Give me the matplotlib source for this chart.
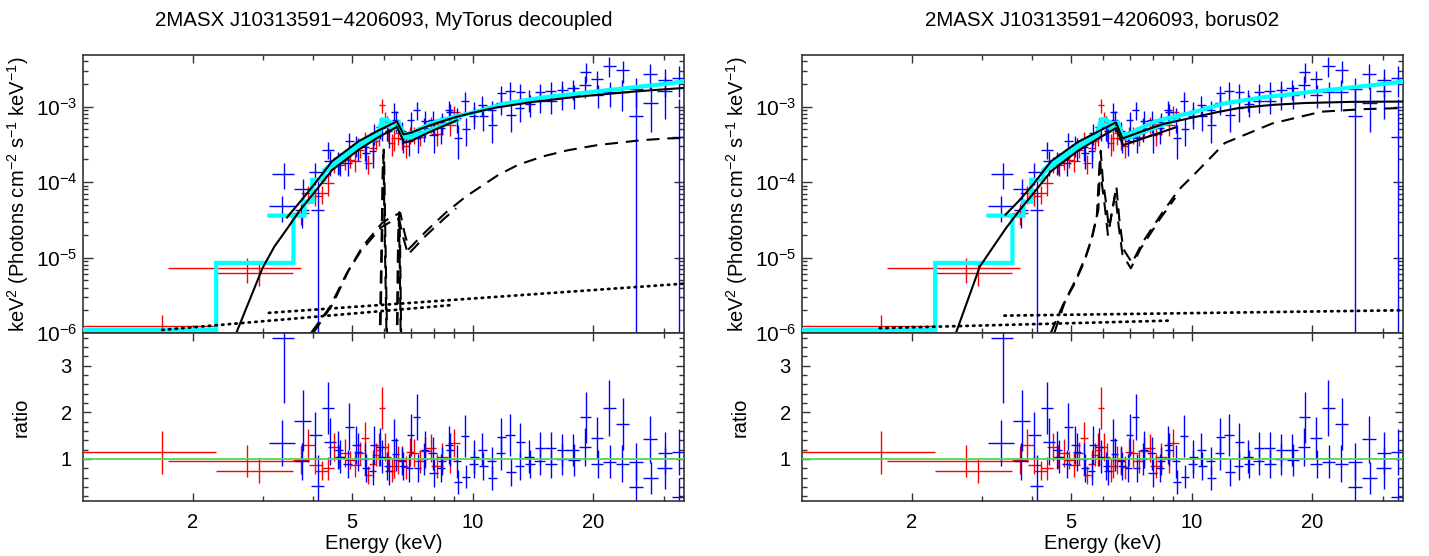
import numpy as np
import matplotlib
matplotlib.use("Agg")
import matplotlib.pyplot as plt
from matplotlib.ticker import FixedLocator, NullFormatter, FixedFormatter

plt.rcParams['font.family'] = ['Liberation Sans', 'DejaVu Sans']
plt.rcParams['mathtext.fontset'] = 'custom'
plt.rcParams['mathtext.rm'] = 'Liberation Sans'
plt.rcParams['mathtext.it'] = 'Liberation Sans'
plt.rcParams['mathtext.default'] = 'regular'

# ---------------- data (shared by both fits) ----------------
# red data set 1
red1_edges = [1.065, 2.29, 3.57, 3.9, 4.2, 4.5, 4.8, 5.1, 5.35, 5.6, 5.85, 6.05, 6.25, 6.5, 6.8, 7.15, 7.6, 8.1, 8.7, 9.3]
red1_flux = [1.25e-6, 6.3e-6, 3.9e-5, 6.5e-5, 9.6e-5, 1.68e-4, 1.96e-4, 2.7e-4, 1.8e-4, 3.5e-4, 1.05e-3, 4.8e-4, 3.8e-4, 3.9e-4, 4.3e-4, 4.0e-4, 5.9e-4, 5.9e-4, 8.4e-4]
red1_ferr = [0.5e-6, 2.1e-6, 1.2e-5, 1.7e-5, 3.0e-5, 4.0e-5, 4.0e-5, 6.0e-5, 5.0e-5, 8.0e-5, 2.2e-4, 1.4e-4, 1.2e-4, 1.2e-4, 1.1e-4, 1.0e-4, 1.4e-4, 1.7e-4, 1.9e-4]
red1_ratio = [1.14, 0.74, 0.98, 0.87, 0.80, 1.05, 0.98, 1.12, 0.66, 1.09, 2.09, 1.05, 0.84, 0.98, 1.16, 0.95, 1.23, 1.05, 1.34]
red1_rerr = [0.46, 0.25, 0.30, 0.20, 0.25, 0.25, 0.20, 0.25, 0.20, 0.25, 0.45, 0.30, 0.25, 0.30, 0.30, 0.25, 0.30, 0.30, 0.30]

# red data set 2
red2_edges = [1.74, 3.72, 4.05, 4.35, 4.65, 4.95, 5.25, 5.5, 5.75, 5.95, 6.15, 6.4, 6.65, 6.95, 7.35, 7.85, 8.45, 9.1]
red2_flux = [7.3e-6, 7.1e-5, 7.1e-5, 1.76e-4, 2.0e-4, 1.9e-4, 3.7e-4, 2.8e-4, 4.3e-4, 6.9e-4, 3.3e-4, 4.5e-4, 3.0e-4, 4.3e-4, 5.2e-4, 4.3e-4, 5.8e-4]
red2_ferr = [2.7e-6, 1.9e-5, 1.9e-5, 4.2e-5, 5.4e-5, 5.5e-5, 9.0e-5, 9.0e-5, 1.3e-4, 1.6e-4, 1.1e-4, 1.4e-4, 9.0e-5, 1.1e-4, 1.3e-4, 1.3e-4, 1.7e-4]
red2_ratio = [0.96, 1.29, 0.75, 1.26, 1.12, 0.87, 1.44, 0.90, 1.20, 1.26, 0.75, 0.98, 0.82, 1.12, 1.18, 0.85, 1.00]
red2_rerr = [0.35, 0.35, 0.20, 0.30, 0.30, 0.25, 0.35, 0.30, 0.35, 0.30, 0.25, 0.30, 0.25, 0.30, 0.30, 0.25, 0.30]

# blue data set 1
blue1_edges = [3.16, 3.59, 3.95, 4.25, 4.55, 4.8, 5.05, 5.3, 5.55, 5.8, 6.05, 6.3, 6.55, 6.85, 7.15, 7.45, 7.8, 8.2, 8.6, 9.0, 9.4,
               9.85, 10.35, 10.9, 11.5, 12.1, 12.8, 13.5, 14.3, 15.2, 16.2, 17.3, 18.5, 19.8, 21.2, 22.8, 24.6, 26.6, 29.0, 31.5, 34.0]
blue1_flux = [1.3e-4, 8.2e-5, 4.3e-5, 1.9e-4, 1.8e-4, 3.5e-4, 2.9e-4, 2.4e-4, 4.55e-4, 5.25e-4, 4.7e-4, 6.7e-4, 3.7e-4, 6.6e-4, 3.9e-4,
              6.5e-4, 4.2e-4, 6.3e-4, 8.5e-4, 3.9e-4, 5.0e-4, 8.8e-4, 7.5e-4, 5.7e-4, 1.5e-3, 7.8e-4, 1.56e-3, 1.08e-3, 1.56e-3, 1.2e-3,
              1.67e-3, 1.44e-3, 2.9e-3, 1.44e-3, 1.57e-3, 3.05e-3, 1.71e-3, 1.13e-3, 2.26e-3, 4.0e-4]
blue1_ferr = [5.0e-5, 2.9e-5, 6.5e-5, 7.0e-5, 6.0e-5, 1.0e-4, 1.0e-4, 9.0e-5, 1.4e-4, 1.75e-4, 1.9e-4, 2.1e-4, 1.3e-4, 2.0e-4, 1.5e-4,
              2.2e-4, 1.8e-4, 2.0e-4, 2.5e-4, 1.9e-4, 2.0e-4, 2.9e-4, 2.7e-4, 2.4e-4, 4.0e-4, 3.2e-4, 4.6e-4, 3.6e-4, 4.4e-4, 4.0e-4,
              4.9e-4, 5.1e-4, 8.5e-4, 4.8e-4, 5.8e-4, 9.6e-4, 7.3e-4, 6.7e-4, 9.1e-4, 8.5e-4]
blue1_ratio = [3.60, 1.82, 0.43, 1.37, 1.05, 1.69, 1.15, 0.80, 1.30, 1.05, 0.75, 1.10, 0.85, 1.51, 0.80, 1.20, 0.70, 0.95, 1.20, 0.51,
               0.62, 1.05, 0.84, 0.59, 1.48, 0.73, 1.37, 0.90, 1.23, 0.90, 1.19, 0.98, 1.89, 0.90, 0.94, 1.75, 0.94, 0.59, 1.12, 0.19]
blue1_rerr = [1.40, 0.65, 0.65, 0.50, 0.35, 0.50, 0.40, 0.30, 0.40, 0.35, 0.30, 0.35, 0.30, 0.45, 0.30, 0.40, 0.30, 0.30, 0.35, 0.25,
              0.25, 0.35, 0.30, 0.25, 0.40, 0.30, 0.40, 0.30, 0.35, 0.30, 0.35, 0.35, 0.55, 0.30, 0.35, 0.55, 0.40, 0.35, 0.45, 0.40]

# blue data set 2
blue2_edges = [3.1, 3.6, 3.9, 4.2, 4.5, 4.75, 5.0, 5.25, 5.5, 5.75, 6.0, 6.25, 6.5, 6.8, 7.1, 7.4, 7.75, 8.15, 8.55, 8.95, 9.35,
               9.8, 10.3, 10.85, 11.45, 12.05, 12.75, 13.45, 14.25, 15.15, 16.15, 17.25, 18.45, 19.75, 21.15, 22.75, 24.55, 26.55, 28.9, 31.4, 34.0]
blue2_flux = [4.8e-5, 4.3e-5, 1.36e-4, 2.7e-4, 1.9e-4, 1.8e-4, 3.1e-4, 2.9e-4, 2.55e-4, 5.4e-4, 5.5e-4, 8.4e-4, 4.75e-4, 3.5e-4, 9.1e-4,
              5.3e-4, 6.6e-4, 5.2e-4, 9.1e-4, 7.1e-4, 1.19e-3, 7.5e-4, 1.07e-3, 9.0e-4, 1.12e-3, 1.62e-3, 9.6e-4, 1.26e-3, 1.2e-3, 1.64e-3,
              1.4e-3, 1.75e-3, 1.93e-3, 2.3e-3, 3.5e-3, 1.57e-3, 7.5e-4, 2.7e-3, 1.6e-3, 2.4e-3]
blue2_ferr = [1.8e-5, 1.8e-5, 4.5e-5, 7.0e-5, 6.4e-5, 6.0e-5, 9.6e-5, 1.0e-4, 1.0e-4, 1.7e-4, 2.0e-4, 2.7e-4, 1.5e-4, 1.3e-4, 2.4e-4,
              1.85e-4, 2.1e-4, 2.0e-4, 2.8e-4, 2.6e-4, 3.6e-4, 2.5e-4, 3.1e-4, 2.9e-4, 3.5e-4, 4.8e-4, 3.4e-4, 4.2e-4, 3.8e-4, 4.7e-4,
              4.9e-4, 5.1e-4, 6.1e-4, 7.2e-4, 1.0e-3, 7.0e-4, 9.1e-4, 9.6e-4, 9.1e-4, 1.06e-3]
blue2_ratio = [1.34, 0.95, 1.51, 2.09, 1.19, 0.90, 1.30, 1.00, 0.75, 1.26, 0.85, 1.40, 0.95, 0.80, 1.90, 1.00, 1.12, 0.80, 1.30, 0.95,
               1.50, 0.90, 1.20, 0.95, 1.12, 1.51, 0.85, 1.05, 0.95, 1.23, 1.00, 1.19, 1.26, 1.44, 2.09, 0.90, 0.41, 1.42, 0.80, 1.15]
blue2_rerr = [0.50, 0.40, 0.50, 0.55, 0.40, 0.30, 0.40, 0.35, 0.30, 0.40, 0.30, 0.45, 0.30, 0.30, 0.50, 0.35, 0.35, 0.30, 0.40, 0.35,
              0.45, 0.30, 0.35, 0.30, 0.35, 0.45, 0.30, 0.35, 0.30, 0.35, 0.35, 0.35, 0.40, 0.45, 0.60, 0.40, 0.50, 0.50, 0.45, 0.50]

# folded model (thick cyan), same in both fits
cyan_red_E = [1.065, 2.29, 2.29, 3.57, 3.57, 3.80, 3.80, 3.98, 3.98, 4.26, 4.26, 4.6, 5.0, 5.4, 5.8, 5.95, 6.1, 6.3, 6.55, 6.7, 7.0, 7.5, 8.2, 9.2]
cyan_red_y = [1.1e-6, 1.1e-6, 8.5e-6, 8.5e-6, 3.6e-5, 3.6e-5, 5.5e-5, 5.5e-5, 1.07e-4, 1.07e-4, 1.35e-4, 1.8e-4, 2.5e-4, 3.2e-4,
              3.9e-4, 5.8e-4, 5.8e-4, 5.1e-4, 5.3e-4, 3.9e-4, 3.9e-4, 4.5e-4, 5.4e-4, 6.7e-4]
cyan_blue_E = [3.11, 3.80, 3.80, 3.98, 3.98, 4.26, 4.26, 4.6, 5.0, 5.4, 5.8, 5.95, 6.1, 6.3, 6.55, 6.7, 7.0, 7.5, 8.2, 9.2, 10.0, 12.0,
               15.0, 20.0, 25.0, 30.0, 33.5]
cyan_blue_y = [3.6e-5, 3.6e-5, 5.5e-5, 5.5e-5, 1.07e-4, 1.07e-4, 1.45e-4, 2.0e-4, 2.8e-4, 3.6e-4, 4.4e-4, 6.8e-4, 6.8e-4, 6.0e-4,
               6.2e-4, 4.3e-4, 4.4e-4, 5.3e-4, 6.5e-4, 7.6e-4, 8.3e-4, 1.1e-3, 1.33e-3, 1.58e-3, 1.8e-3, 2.0e-3, 2.15e-3]

# ---------------- MyTorus decoupled model ----------------
myt_tot_blue_E = [3.44, 3.7, 4.0, 4.46, 5.2, 5.8, 6.2, 6.47, 6.72, 7.0, 7.5, 8.0, 9.0, 10.0, 11.4, 14, 17, 20, 25, 30, 33.5]
myt_tot_blue_y = [3.4e-5, 5.4e-5, 9.0e-5, 1.9e-4, 3.5e-4, 4.8e-4, 5.7e-4, 6.4e-4, 4.3e-4, 4.5e-4, 5.2e-4, 5.9e-4, 7.2e-4, 8.3e-4,
                  9.7e-4, 1.15e-3, 1.3e-3, 1.42e-3, 1.58e-3, 1.7e-3, 1.77e-3]
myt_tot_red_E = [2.5, 2.57, 2.99, 3.2, 3.44, 3.7, 4.0, 4.46, 5.2, 5.8, 6.47, 6.75, 7.0, 8.0, 9.14]
myt_tot_red_y = [7e-7, 1e-6, 7.3e-6, 1.4e-5, 2.4e-5, 4.2e-5, 7.0e-5, 1.45e-4, 2.7e-4, 3.9e-4, 5.4e-4, 3.35e-4, 3.5e-4, 4.9e-4, 6.6e-4]
myt_refl_blue_E = [4.0, 4.47, 4.92, 5.31, 5.95, 6.3, 6.6, 6.75, 6.93, 7.63, 8.55, 9.6, 11.6, 13.0, 15.0, 17.3, 20.5, 26.4, 30.7, 33.5]
myt_refl_blue_y = [1e-6, 2.4e-6, 7.0e-6, 1.4e-5, 2.9e-5, 3.5e-5, 3.9e-5, 2.2e-5, 1.3e-5, 2.2e-5, 3.9e-5, 6.4e-5, 1.25e-4, 1.7e-4,
                   2.2e-4, 2.65e-4, 3.1e-4, 3.6e-4, 3.8e-4, 3.85e-4]
myt_refl_red_E = [3.95, 4.4, 4.85, 5.25, 5.9, 6.25, 6.55, 6.7, 6.9, 7.6, 8.5, 9.1]
myt_refl_red_y = [1e-6, 2.2e-6, 6.2e-6, 1.2e-5, 2.5e-5, 3.0e-5, 3.3e-5, 1.9e-5, 1.1e-5, 1.9e-5, 3.3e-5, 4.5e-5]
myt_ka_blue_E = [5.84, 5.9, 5.95, 5.98, 6.0, 6.02, 6.05, 6.1, 6.16]
myt_ka_blue_y = [1e-7, 2e-6, 2.5e-5, 1.5e-4, 2.7e-4, 1.5e-4, 2.5e-5, 2e-6, 1e-7]
myt_ka_red_E = [5.82, 5.88, 5.93, 5.96, 5.98, 6.0, 6.03, 6.08, 6.14]
myt_ka_red_y = [1e-7, 2e-6, 2.2e-5, 1.3e-4, 2.3e-4, 1.3e-4, 2.2e-5, 2e-6, 1e-7]
myt_kb_blue_E = [6.45, 6.5, 6.53, 6.56, 6.59, 6.62, 6.67]
myt_kb_blue_y = [1e-7, 2e-6, 1.5e-5, 4.0e-5, 1.5e-5, 2e-6, 1e-7]
myt_kb_red_E = [6.43, 6.48, 6.51, 6.54, 6.57, 6.6, 6.65]
myt_kb_red_y = [1e-7, 2e-6, 1.3e-5, 3.4e-5, 1.3e-5, 2e-6, 1e-7]
myt_scat_blue_E = [3.1, 33.5]
myt_scat_blue_y = [1.85e-6, 4.5e-6]
myt_scat_red_E = [1.68, 8.9]
myt_scat_red_y = [1.1e-6, 2.35e-6]

# ---------------- borus02 model ----------------
bor_tot_blue_E = [3.43, 3.7, 4.0, 4.46, 5.2, 5.8, 6.2, 6.47, 6.72, 7.0, 7.5, 8.5, 9.83, 11.5, 13.1, 16, 19.2, 25, 33.5]
bor_tot_blue_y = [3.7e-5, 5.6e-5, 9.0e-5, 1.9e-4, 3.4e-4, 4.6e-4, 5.5e-4, 6.2e-4, 3.8e-4, 4.1e-4, 4.7e-4, 5.9e-4, 7.0e-4, 8.4e-4,
                  9.6e-4, 1.06e-3, 1.12e-3, 1.16e-3, 1.17e-3]
bor_tot_red_E = [2.5, 2.58, 2.96, 3.2, 3.43, 3.7, 4.0, 4.46, 5.2, 5.8, 6.47, 6.75, 7.0, 8.0, 9.1]
bor_tot_red_y = [7e-7, 1e-6, 7.6e-6, 1.4e-5, 2.4e-5, 4.1e-5, 6.8e-5, 1.4e-4, 2.6e-4, 3.7e-4, 5.2e-4, 3.1e-4, 3.3e-4, 4.2e-4, 5.3e-4]
bor_refl_blue_E = [4.54, 4.85, 5.14, 5.44, 5.65, 5.85, 5.93, 6.0, 6.1, 6.22, 6.49, 6.6, 6.75, 7.1, 7.52, 8.44, 9.28, 10.2, 12.1, 15.9,
                   21.1, 27.0, 33.5]
bor_refl_blue_y = [1e-6, 2.8e-6, 5.1e-6, 1.04e-5, 1.9e-5, 4.3e-5, 2.6e-4, 1.1e-4, 5.8e-5, 2.4e-5, 8.7e-5, 3.2e-5, 1.3e-5, 8.5e-6,
                   1.55e-5, 3.9e-5, 7.9e-5, 1.3e-4, 3.3e-4, 6.0e-4, 8.6e-4, 9.3e-4, 9.6e-4]
bor_refl_red_E = [4.45, 4.78, 5.08, 5.38, 5.6, 5.8, 5.9, 5.97, 6.07, 6.18, 6.45, 6.57, 6.72, 7.05, 7.45, 8.35, 9.1]
bor_refl_red_y = [1e-6, 2.4e-6, 4.3e-6, 8.5e-6, 1.6e-5, 3.6e-5, 2.1e-4, 9.5e-5, 4.8e-5, 2.0e-5, 7.2e-5, 2.7e-5, 1.1e-5, 7.2e-6,
                  1.3e-5, 3.3e-5, 6.2e-5]
bor_scat_blue_E = [3.41, 33.5]
bor_scat_blue_y = [1.7e-6, 2.0e-6]
bor_scat_red_E = [1.665, 8.85]
bor_scat_red_y = [1.16e-6, 1.46e-6]

titles = ['2MASX J10313591\u22124206093, MyTorus decoupled', '2MASX J10313591\u22124206093, borus02']
xticks_major = [2, 5, 10, 20]
xticks_minor = [1, 3, 4, 6, 7, 8, 9, 30]
ytick_top = [1e-6, 1e-5, 1e-4, 1e-3]
ytick_top_labels = ['10$^{-6}$', '10$^{-5}$', '10$^{-4}$', '10$^{-3}$']
ratio_ticks = [1, 2, 3]

XLIM = (1.065, 33.7)
YLIM_TOP = (1e-6, 4.85e-3)
YLIM_RAT = (0.1, 3.7)

RED = '#ff0000'
BLUE = '#0000ff'
CYAN = '#00ffff'
GREEN = '#52d852'

datasets = [
    (red1_edges, red1_flux, red1_ferr, red1_ratio, red1_rerr, RED),
    (red2_edges, red2_flux, red2_ferr, red2_ratio, red2_rerr, RED),
    (blue1_edges, blue1_flux, blue1_ferr, blue1_ratio, blue1_rerr, BLUE),
    (blue2_edges, blue2_flux, blue2_ferr, blue2_ratio, blue2_rerr, BLUE),
]

models = [
    dict(tot=[(myt_tot_red_E, myt_tot_red_y), (myt_tot_blue_E, myt_tot_blue_y)],
         dash=[(myt_refl_red_E, myt_refl_red_y), (myt_refl_blue_E, myt_refl_blue_y),
               (myt_ka_red_E, myt_ka_red_y), (myt_ka_blue_E, myt_ka_blue_y),
               (myt_kb_red_E, myt_kb_red_y), (myt_kb_blue_E, myt_kb_blue_y)],
         dot=[(myt_scat_red_E, myt_scat_red_y), (myt_scat_blue_E, myt_scat_blue_y)]),
    dict(tot=[(bor_tot_red_E, bor_tot_red_y), (bor_tot_blue_E, bor_tot_blue_y)],
         dash=[(bor_refl_red_E, bor_refl_red_y), (bor_refl_blue_E, bor_refl_blue_y)],
         dot=[(bor_scat_red_E, bor_scat_red_y), (bor_scat_blue_E, bor_scat_blue_y)]),
]

W, H = 1429, 556
fig = plt.figure(figsize=(W / 100, H / 100), dpi=100)

panel_x0 = [83, 802]
panel_w = 601
top_y0, top_y1 = 55, 333
rat_y1 = 501
LABEL_X = (31 - 83) / 601

def style_axis(ax):
    for sp in ax.spines.values():
        sp.set_linewidth(1.2)
        sp.set_color('#333333')
    ax.tick_params(which='both', direction='in', top=True, right=True, color='#333333', width=1.0)
    ax.tick_params(which='major', length=6)
    ax.tick_params(which='minor', length=3.5)


for p in range(2):
    x0 = panel_x0[p] / W
    w = panel_w / W
    ax = fig.add_axes([x0, 1 - top_y1 / H, w, (top_y1 - top_y0) / H])
    axr = fig.add_axes([x0, 1 - rat_y1 / H, w, (rat_y1 - top_y1) / H])

    for a in (ax, axr):
        a.set_xscale('log')
        a.set_xlim(*XLIM)
        a.xaxis.set_major_locator(FixedLocator(xticks_major))
        a.xaxis.set_minor_locator(FixedLocator(xticks_minor))
        a.xaxis.set_minor_formatter(NullFormatter())
        style_axis(a)

    ax.set_yscale('log')
    ax.set_ylim(*YLIM_TOP)
    ax.yaxis.set_major_locator(FixedLocator(ytick_top))
    ax.yaxis.set_major_formatter(FixedFormatter(ytick_top_labels))
    ax.xaxis.set_major_formatter(NullFormatter())
    ax.tick_params(axis='y', which='major', length=7, labelsize=15, pad=4)

    axr.set_ylim(*YLIM_RAT)
    axr.yaxis.set_major_locator(FixedLocator(ratio_ticks))
    axr.yaxis.set_minor_locator(FixedLocator(np.arange(0.2, 3.7, 0.2)))
    axr.set_yticklabels([str(t) for t in ratio_ticks])
    axr.set_xticklabels([str(t) for t in xticks_major])
    axr.tick_params(axis='both', which='major', labelsize=14.5)
    axr.tick_params(axis='x', pad=9)
    axr.tick_params(axis='y', pad=8)

    # data
    for edges, flux, ferr, ratio, rerr, col in datasets:
        e = np.asarray(edges)
        lo, hi = e[:-1], e[1:]
        cen = 0.5 * (lo + hi)
        f = np.asarray(flux)
        fe = np.asarray(ferr)
        fe_lo = np.minimum(fe, f - 1e-9)
        ax.errorbar(cen, f, xerr=[cen - lo, hi - cen], yerr=[fe_lo, fe], fmt='none',
                    ecolor=col, elinewidth=1.0, capsize=0, zorder=2)
        axr.errorbar(cen, ratio, xerr=[cen - lo, hi - cen], yerr=rerr, fmt='none',
                     ecolor=col, elinewidth=1.0, capsize=0, zorder=2)

    axr.axhline(1.0, color=GREEN, lw=1.3, zorder=3)

    ax.plot(cyan_red_E, cyan_red_y, color=CYAN, lw=3.0, zorder=3, solid_joinstyle='miter')
    ax.plot(cyan_blue_E, cyan_blue_y, color=CYAN, lw=3.0, zorder=3, solid_joinstyle='miter')

    m = models[p]
    for E, y in m['tot']:
        ax.plot(E, y, color='black', lw=1.5, zorder=4)
    for E, y in m['dash']:
        ax.plot(E, y, color='black', lw=1.5, zorder=4, linestyle=(0, (6.2, 3.8)))
    for E, y in m['dot']:
        ax.plot(E, y, color='black', lw=2.0, zorder=4, linestyle=(0, (0.5, 1.9)),
                dash_capstyle='round')

    ax.set_ylabel('keV$^2$ (Photons cm$^{-2}$ s$^{-1}$ keV$^{-1}$)', fontsize=14.5)
    ax.yaxis.set_label_coords(LABEL_X, 0.5)
    axr.set_ylabel('ratio', fontsize=14.5)
    axr.yaxis.set_label_coords(LABEL_X, 0.5)
    axr.set_xlabel('Energy (keV)', fontsize=14.5, labelpad=1)
    ax.set_title(titles[p], fontsize=14.8, pad=21)

fig.savefig('out.png', dpi=100)
